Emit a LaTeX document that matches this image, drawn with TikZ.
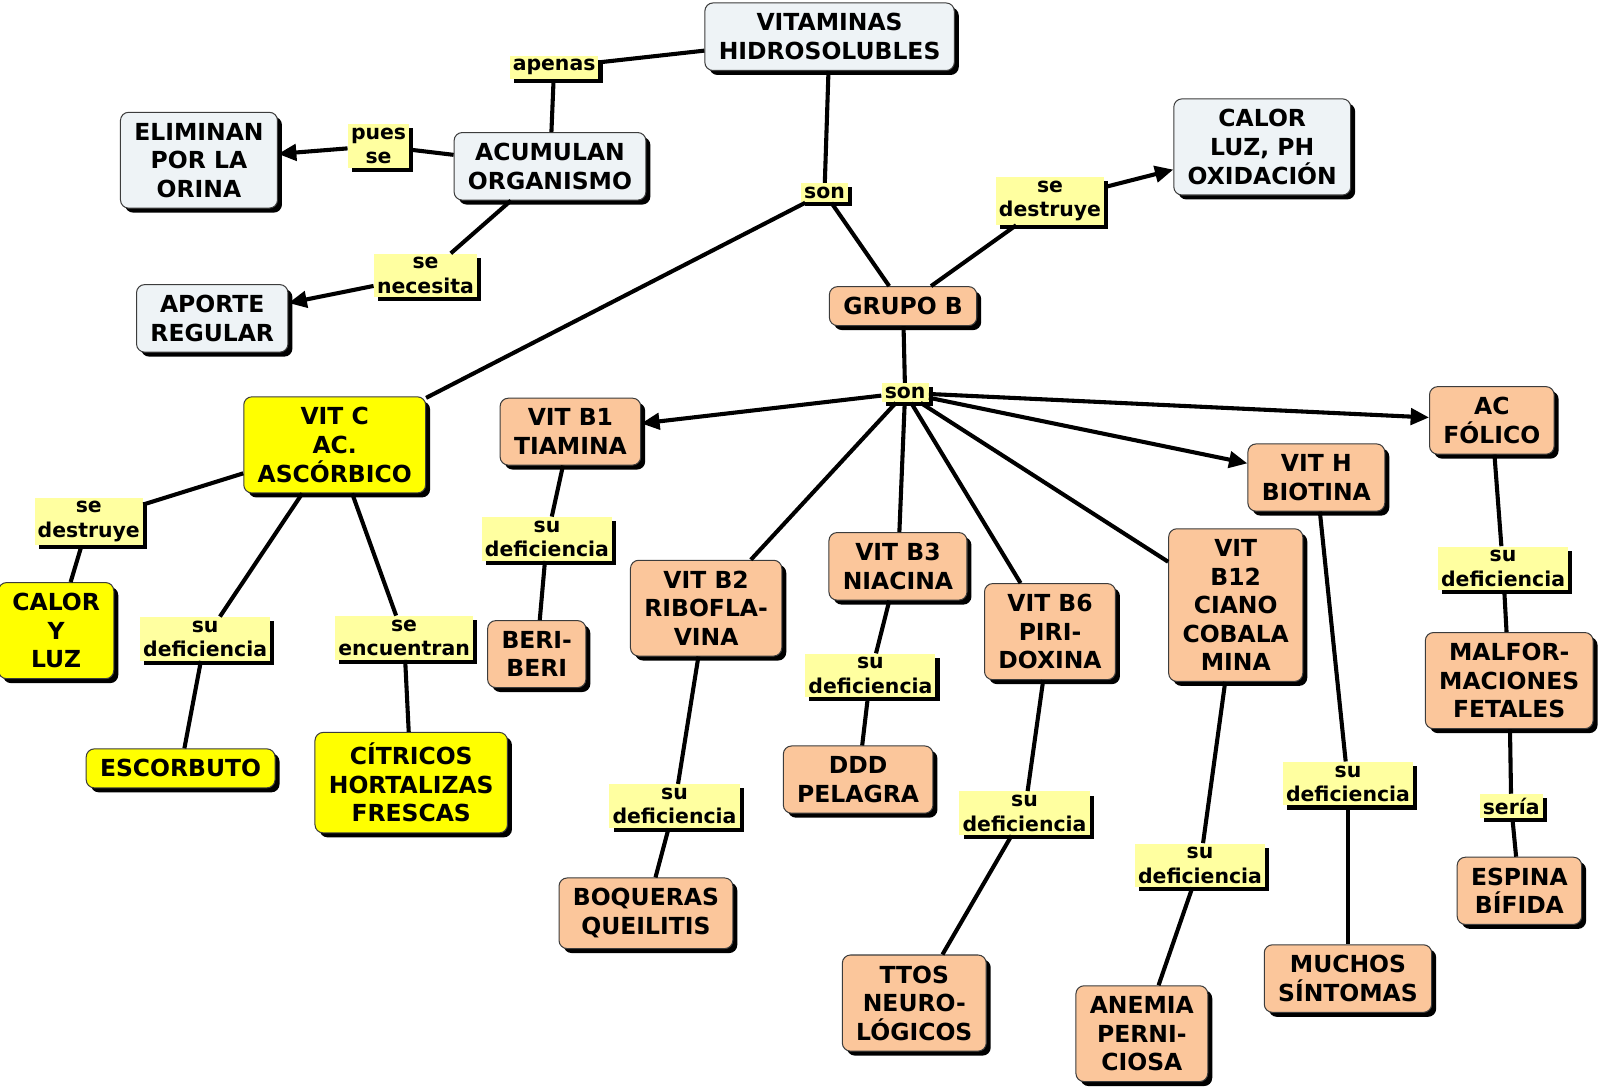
\documentclass[tikz,border=0pt]{standalone}
\usepackage{fontspec}
\setmainfont{DejaVu Sans}
\usepackage{xcolor}
\usepackage{tikz}
\usetikzlibrary{arrows.meta,shadows}
\definecolor{conc}{HTML}{EEF3F6}
\definecolor{bgrp}{HTML}{FBC69B}
\definecolor{vitc}{HTML}{FFFF00}
\definecolor{link}{HTML}{FFFFA0}
\definecolor{edge}{HTML}{3C3C3C}
\tikzset{
  box/.style={draw=edge, line width=0.5pt, rounded corners=4pt, align=center,
    font=\bfseries\fontsize{11.5}{14}\selectfont, inner xsep=6.8pt, inner ysep=5.2pt,
    general shadow={fill=black, shadow xshift=2.2pt, shadow yshift=-2.2pt}},
  cnc/.style={box, fill=conc},
  grb/.style={box, fill=bgrp},
  vtc/.style={box, fill=vitc},
  lnk/.style={fill=link, align=center, inner xsep=1.5pt, inner ysep=1.8pt,
    font=\bfseries\fontsize{10}{12}\selectfont,
    general shadow={fill=black, shadow xshift=2pt, shadow yshift=-2pt}},
  con/.style={draw=black, line width=2pt},
  arr/.style={con, -{Triangle[length=9pt,width=8pt]}},
}

\begin{document}
\begin{tikzpicture}[x=0.5pt, y=-0.5pt]
  \useasboundingbox (0,0) rectangle (1568,1069);
  % concepts
  \node[cnc] (vitam) at (813,36) {VITAMINAS\\HIDROSOLUBLES};
  \node[cnc] (elimin) at (195,157) {ELIMINAN\\POR LA\\ORINA};
  \node[cnc] (acumul) at (539,163) {ACUMULAN\\ORGANISMO};
  \node[cnc] (aporte) at (208,312) {APORTE\\REGULAR};
  \node[cnc] (calorluz) at (1237,144) {CALOR\\LUZ, PH\\OXIDACIÓN};
  \node[grb] (grupob) at (885,300) {GRUPO B};
  \node[vtc] (vitc) at (328,436) {VIT C\\AC.\\ASCÓRBICO};
  \node[vtc] (calory) at (55,618) {CALOR\\Y\\LUZ};
  \node[vtc] (escorb) at (177,753) {ESCORBUTO};
  \node[vtc] (citric) at (403,767) {CÍTRICOS\\HORTALIZAS\\FRESCAS};
  \node[grb] (b1) at (559,423) {VIT B1\\TIAMINA};
  \node[grb] (beri) at (526,641) {BERI-\\BERI};
  \node[grb] (b2) at (692,596) {VIT B2\\RIBOFLA-\\VINA};
  \node[grb] (boquer) at (633,895) {BOQUERAS\\QUEILITIS};
  \node[grb] (b3) at (880,555) {VIT B3\\NIACINA};
  \node[grb] (pelag) at (841,764) {DDD\\PELAGRA};
  \node[grb] (b6) at (1029,619) {VIT B6\\PIRI-\\DOXINA};
  \node[grb] (neuro) at (896,983) {TTOS\\NEURO-\\LÓGICOS};
  \node[grb] (b12) at (1211,593) {VIT\\B12\\CIANO\\COBALA\\MINA};
  \node[grb] (anemia) at (1119,1013) {ANEMIA\\PERNI-\\CIOSA};
  \node[grb] (vith) at (1290,468) {VIT H\\BIOTINA};
  \node[grb] (sintom) at (1321,959) {MUCHOS\\SÍNTOMAS};
  \node[grb] (folico) at (1462,412) {AC\\FÓLICO};
  \node[grb] (malfor) at (1479,667) {MALFOR-\\MACIONES\\FETALES};
  \node[grb] (espina) at (1489,873) {ESPINA\\BÍFIDA};
  % linking phrases
  \node[lnk] (lapen) at (543,66) {apenas};
  \node[lnk] (lpues) at (371,143) {pues\\se};
  \node[lnk] (lneces) at (417,270) {se\\necesita};
  \node[lnk] (lson) at (808,189) {son};
  \node[lnk] (ldest) at (1029,197) {se\\destruye};
  \node[lnk] (lsonb) at (887,385) {son};
  \node[lnk] (ldestc) at (87,511) {se\\destruye};
  \node[lnk] (ldefc) at (201,626) {su\\deficiencia};
  \node[lnk] (lencu) at (396,625) {se\\encuentran};
  \node[lnk] (ldef1) at (536,528) {su\\deficiencia};
  \node[lnk] (ldef2) at (661,790) {su\\deficiencia};
  \node[lnk] (ldef3) at (853,662) {su\\deficiencia};
  \node[lnk] (ldef6) at (1004,797) {su\\deficiencia};
  \node[lnk] (ldef12) at (1176,848) {su\\deficiencia};
  \node[lnk] (ldefh) at (1321,768) {su\\deficiencia};
  \node[lnk] (ldeff) at (1473,557) {su\\deficiencia};
  \node[lnk] (lseria) at (1481,790) {sería};
  % connectors
  \draw[con] (vitam) -- (lapen);
  \draw[con] (lapen) -- (acumul);
  \draw[con] (acumul) -- (lpues);
  \draw[arr] (lpues) -- (elimin);
  \draw[con] (acumul) -- (lneces);
  \draw[arr] (lneces) -- (aporte);
  \draw[con] (vitam) -- (lson);
  \draw[con] (lson) -- (grupob);
  \draw[con] (lson) -- (vitc);
  \draw[con] (grupob) -- (ldest);
  \draw[arr] (ldest) -- (calorluz);
  \draw[con] (grupob) -- (lsonb);
  \draw[arr] (lsonb) -- (b1);
  \draw[con] (lsonb) -- (b2);
  \draw[con] (lsonb) -- (b3);
  \draw[con] (lsonb) -- (b6);
  \draw[con] (lsonb) -- (b12);
  \draw[arr] (lsonb) -- (vith);
  \draw[arr] (lsonb) -- (folico);
  \draw[con] (vitc) -- (ldestc);
  \draw[con] (ldestc) -- (calory);
  \draw[con] (vitc) -- (ldefc);
  \draw[con] (ldefc) -- (escorb);
  \draw[con] (vitc) -- (lencu);
  \draw[con] (lencu) -- (citric);
  \draw[con] (b1) -- (ldef1);
  \draw[con] (ldef1) -- (beri);
  \draw[con] (b2) -- (ldef2);
  \draw[con] (ldef2) -- (boquer);
  \draw[con] (b3) -- (ldef3);
  \draw[con] (ldef3) -- (pelag);
  \draw[con] (b6) -- (ldef6);
  \draw[con] (ldef6) -- (neuro);
  \draw[con] (b12) -- (ldef12);
  \draw[con] (ldef12) -- (anemia);
  \draw[con] (vith) -- (ldefh);
  \draw[con] (ldefh) -- (sintom);
  \draw[con] (folico) -- (ldeff);
  \draw[con] (ldeff) -- (malfor);
  \draw[con] (malfor) -- (lseria);
  \draw[con] (lseria) -- (espina);
\end{tikzpicture}
\end{document}
